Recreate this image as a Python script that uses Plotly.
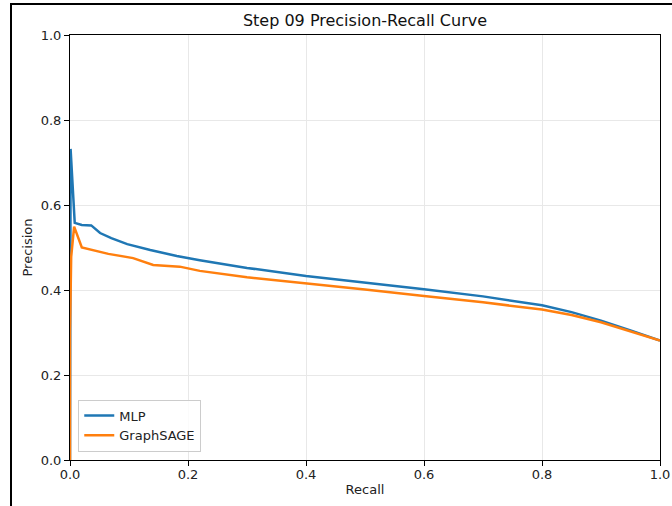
import plotly.graph_objects as go

# MLP curve
mlp_recall = [0.0, 0.0, 0.001, 0.008, 0.02, 0.036, 0.051, 0.07, 0.097, 0.136, 0.181, 0.22,
              0.3, 0.4, 0.5, 0.6, 0.7, 0.8, 0.85, 0.9, 0.95, 1.0]
mlp_precision = [0.0, 0.5, 0.732, 0.558, 0.553, 0.552, 0.534, 0.522, 0.508, 0.494, 0.480, 0.470,
                 0.452, 0.433, 0.418, 0.402, 0.385, 0.364, 0.348, 0.328, 0.305, 0.281]

# GraphSAGE curve
sage_recall = [0.0, 0.0, 0.002, 0.007, 0.02, 0.045, 0.065, 0.107, 0.141, 0.186, 0.22,
               0.3, 0.4, 0.5, 0.6, 0.7, 0.8, 0.85, 0.9, 0.95, 1.0]
sage_precision = [0.0, 0.3, 0.478, 0.549, 0.500, 0.492, 0.485, 0.475, 0.459, 0.455, 0.445,
                  0.430, 0.416, 0.401, 0.386, 0.371, 0.354, 0.341, 0.324, 0.303, 0.281]

x_ticks = [0.0, 0.2, 0.4, 0.6, 0.8, 1.0]
y_ticks = [0.0, 0.2, 0.4, 0.6, 0.8, 1.0]

fig = go.Figure()
fig.add_trace(go.Scatter(x=mlp_recall, y=mlp_precision, mode="lines", name="MLP",
                         line=dict(color="#1f77b4", width=2.5)))
fig.add_trace(go.Scatter(x=sage_recall, y=sage_precision, mode="lines", name="GraphSAGE",
                         line=dict(color="#ff7f0e", width=2.5)))

font = "DejaVu Sans"
axis_common = dict(showline=True, linecolor="black", linewidth=1, mirror=True,
                   ticks="outside", ticklen=5, tickcolor="black", tickwidth=1,
                   showgrid=True, gridcolor="#e8e8e8", gridwidth=1, zeroline=False,
                   automargin=False,
                   tickfont=dict(family=font, size=13, color="#222"))

fig.update_layout(
    width=672, height=506,
    margin=dict(l=70, r=12, t=35, b=46),
    paper_bgcolor="white", plot_bgcolor="white",
    title=dict(text="Step 09 Precision-Recall Curve", x=(365) / 672, xanchor="center",
               y=1 - 20 / 506, yanchor="middle",
               font=dict(family=font, size=16, color="#111")),
    xaxis=dict(range=[0, 1], tickvals=x_ticks, ticktext=[f"{v:.1f}" for v in x_ticks],
               ticklabelstandoff=-3,
               title=dict(text="Recall", font=dict(family=font, size=13, color="#222"), standoff=4),
               **axis_common),
    yaxis=dict(range=[0, 1], tickvals=y_ticks, ticktext=[f"{v:.1f}" for v in y_ticks],
               title=dict(text="Precision", font=dict(family=font, size=13, color="#222"), standoff=5),
               **axis_common),
    legend=dict(x=0.014, y=0.02, xanchor="left", yanchor="bottom", itemwidth=30,
                bgcolor="rgba(255,255,255,0.8)", bordercolor="#cccccc", borderwidth=1,
                font=dict(family=font, size=13, color="#222"), tracegroupgap=0),
    showlegend=True,
)

# outer frame (left and top edges seen in the reference screenshot)
fig.add_shape(type="rect", xref="paper", yref="paper", layer="above",
              x0=(11 - 70) / 590, x1=(690 - 70) / 590, y0=-60 / 425, y1=(460 - 4) / 425,
              line=dict(color="black", width=2), fillcolor="rgba(0,0,0,0)")

fig.write_html("out.html", config={"displayModeBar": False},
               post_script="document.body.style.margin='0px'; document.body.style.overflow='hidden';")
